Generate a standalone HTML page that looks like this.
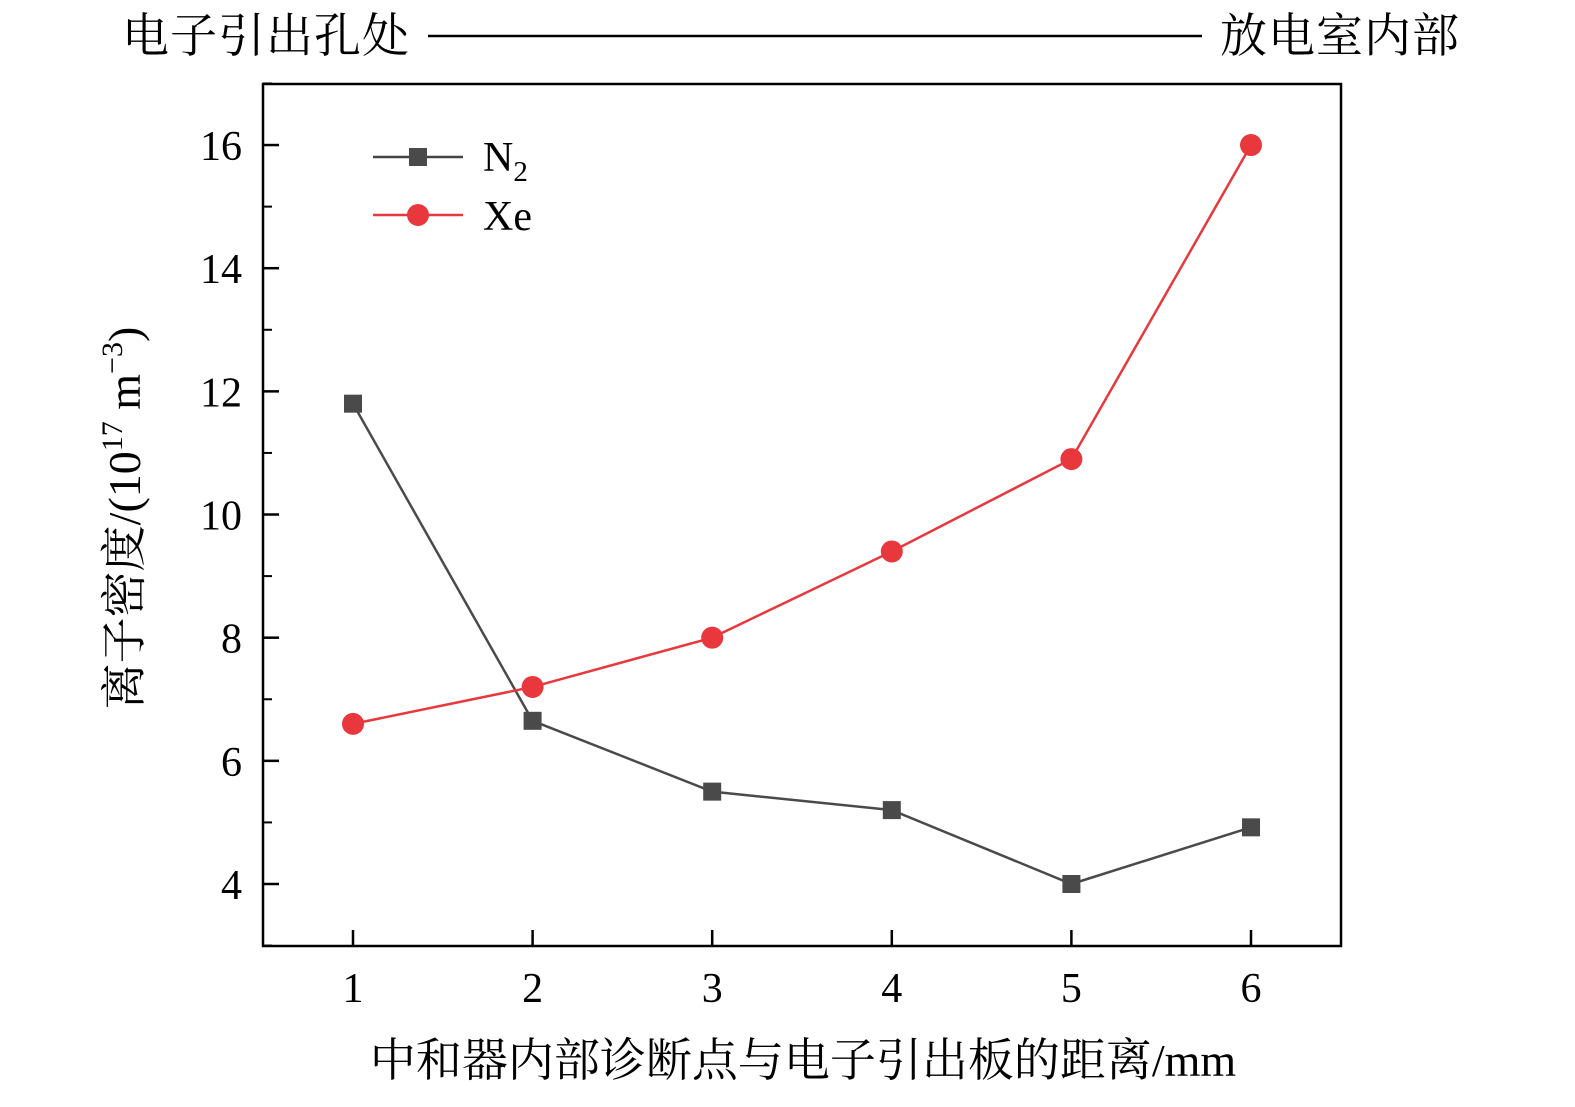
<!DOCTYPE html>
<html><head><meta charset="utf-8"><style>
body{margin:0;background:#fff;}
svg text{font-family:"Liberation Serif","Noto Serif CJK SC",serif;}
</style></head><body>
<svg width="1575" height="1102" viewBox="0 0 1575 1102" xmlns="http://www.w3.org/2000/svg">
<text x="122" y="52" font-size="47" letter-spacing="1">电子引出孔处</text>
<line x1="428" y1="36" x2="1202" y2="36" stroke="#000" stroke-width="2.5"/>
<text x="1220" y="52" font-size="47" letter-spacing="1">放电室内部</text>
<rect x="263" y="84" width="1078" height="862" fill="none" stroke="#000" stroke-width="2.5"/>
<g id="axes"></g>
<g id="series"></g>
<g>
<line x1="373" y1="157" x2="463" y2="157" stroke="#444" stroke-width="2.5"/>
<rect x="409" y="148" width="18" height="18" fill="#4a4a4a"/>
<text x="483" y="171" font-size="42">N<tspan font-size="29" dy="10">2</tspan></text>
<line x1="373" y1="215" x2="463" y2="215" stroke="#e8383d" stroke-width="2.5"/>
<circle cx="418" cy="215" r="11" fill="#e8383d"/>
<text x="483" y="230" font-size="42">Xe</text>
</g>
<text transform="translate(140,518) rotate(-90)" text-anchor="middle" font-size="46">离子密度/(10<tspan font-size="30" dy="-18">17</tspan><tspan dy="18"> m</tspan><tspan font-size="30" dy="-18">−3</tspan><tspan dy="18">)</tspan></text>
<text x="803" y="1076" text-anchor="middle" font-size="46">中和器内部诊断点与电子引出板的距离/mm</text>
</svg>
<script>
const categories=[1,2,3,4,5,6];
const n2Values=[11.8,6.65,5.5,5.2,4.0,4.92];
const xeValues=[6.6,7.2,8.0,9.4,10.9,16.0];
const yTicks=[4,6,8,10,12,14,16];
const yMinor=[3,5,7,9,11,13,15,17];
const NS="http://www.w3.org/2000/svg";
const xS=v=>353+(v-1)*179.6;
const yS=v=>884-(v-4)*61.58;
function mk(t,a,p){const e=document.createElementNS(NS,t);for(const k in a)e.setAttribute(k,a[k]);p.appendChild(e);return e;}
const ax=document.getElementById('axes'),se=document.getElementById('series');
categories.forEach(c=>{
 const l=mk('line',{x1:xS(c),x2:xS(c),y1:946,y2:930,stroke:'#000','stroke-width':2.5},ax);
 
 
 const t=mk('text',{x:xS(c),y:1002,'text-anchor':'middle','font-size':42},ax);t.textContent=c;
 
 
});
yTicks.forEach(v=>{
 const l=mk('line',{x1:263,x2:279,y1:yS(v),y2:yS(v),stroke:'#000','stroke-width':2.5},ax);
 
 
 const t=mk('text',{x:242,y:yS(v)+15,'text-anchor':'end','font-size':42},ax);t.textContent=v;
 
 
});
yMinor.forEach(v=>{
 const l=mk('line',{x1:263,x2:272,y1:yS(v),y2:yS(v),stroke:'#000','stroke-width':2},ax);
 
 
});
function series(vals,color,shape,name){
 const p=mk('polyline',{points:vals.map((v,i)=>xS(categories[i])+','+yS(v)).join(' '),fill:'none',stroke:color,'stroke-width':2.5},se);
 
 
 vals.forEach((v,i)=>{
  let m;
  if(shape==='sq')m=mk('rect',{x:xS(categories[i])-9,y:yS(v)-9,width:18,height:18,fill:color},se);
  else m=mk('circle',{cx:xS(categories[i]),cy:yS(v),r:11,fill:color},se);
  
  
 });
}
series(n2Values,'#4a4a4a','sq','n2');
series(xeValues,'#e8383d','c','xe');
</script>
</body></html>
